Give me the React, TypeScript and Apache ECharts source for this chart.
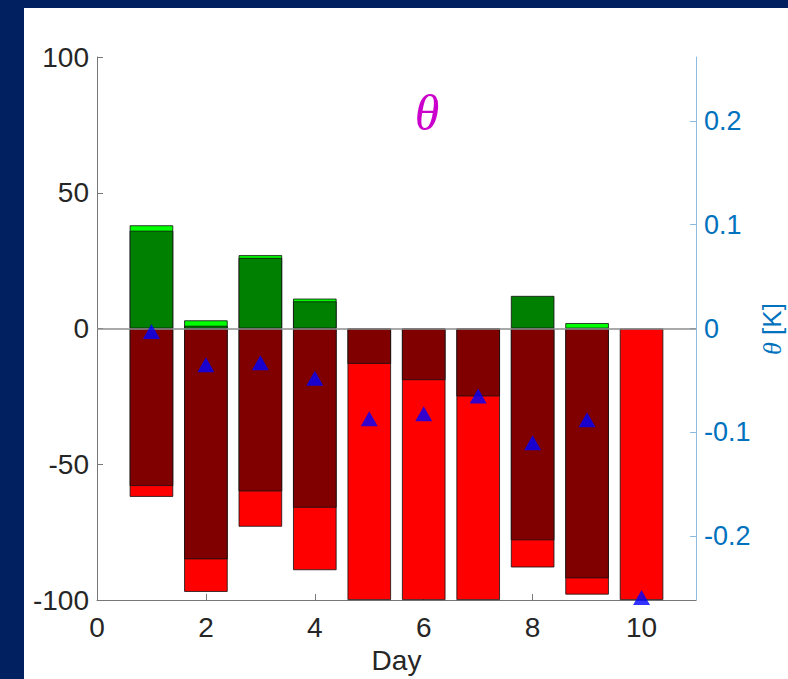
import React, { useEffect, useRef } from "react";
import * as echarts from "echarts";

const days = [1, 2, 3, 4, 5, 6, 7, 8, 9, 10];
const darkGreen = [36, 1, 26, 10, null, null, null, 12, null, null];
const lightGreen = [2, 2, 1, 1, null, null, null, null, 2, null];
const darkRed = [-58, -85, -60, -66, -13, -19, -25, -78, -92, null];
const red = [-4, -12, -13, -23, -87, -81, -75, -10, -6, -100];
const thetaK = [-0.003, -0.035, -0.033, -0.048, -0.087, -0.082, -0.065, -0.11, -0.088, -0.259];
const leftTicks = [-100, -50, 0, 50, 100];
const rightTicks = [-0.2, -0.1, 0, 0.1, 0.2];
const xTicks = [0, 2, 4, 6, 8, 10];

const RIGHT_LIM = 0.2615;

function pairs(arr: (number | null)[]) {
  return days.map((d, i) => (arr[i] == null ? [d, "-"] : [d, arr[i]]));
}
// outer segment of a stacked bar = inner + outer part (null when the outer part is absent)
function totals(inner: (number | null)[], outer: (number | null)[]) {
  return inner.map((v, i) => (outer[i] == null ? null : (v ?? 0) + (outer[i] as number)));
}

export default function App() {
  const ref = useRef<HTMLDivElement>(null);
  useEffect(() => {
    if (!ref.current) return;
    const chart = echarts.init(ref.current, undefined, { renderer: "svg" });
    const font = "'Liberation Sans', Arial, sans-serif";
    const FS = 28;
    const barBase = {
      type: "bar",
      barWidth: 43.5,
      barGap: "-100%",
      xAxisIndex: 0,
      yAxisIndex: 0,
      emphasis: { disabled: true },
    };
    const border = { borderColor: "#111", borderWidth: 0.8 };
    chart.setOption({
      animation: false,
      backgroundColor: "#ffffff",
      grid: { left: 97, top: 57, width: 599, height: 544, containLabel: false },
      xAxis: {
        type: "value",
        min: 0,
        max: 11,
        interval: 2,
        name: "Day",
        nameLocation: "middle",
        nameGap: 46,
        nameTextStyle: { color: "#262626", fontSize: FS, fontFamily: font },
        axisLine: { show: true, onZero: false, lineStyle: { color: "#777", width: 1 } },
        axisTick: { show: true, inside: true, length: 6, lineStyle: { color: "#777" }, customValues: xTicks },
        axisLabel: {
          color: "#262626",
          fontSize: FS,
          fontFamily: font,
          margin: 13,
          customValues: xTicks,
        },
        splitLine: { show: false },
      },
      yAxis: [
        {
          type: "value",
          min: -100,
          max: 100,
          interval: 50,
          position: "left",
          axisLine: { show: true, lineStyle: { color: "#777", width: 1 } },
          axisTick: { show: true, inside: true, length: 6, lineStyle: { color: "#777" }, customValues: leftTicks },
          axisLabel: { color: "#262626", fontSize: FS, fontFamily: font, margin: 8, customValues: leftTicks },
          splitLine: { show: false },
        },
        {
          type: "value",
          min: -RIGHT_LIM,
          max: RIGHT_LIM,
          position: "right",
          axisLine: { show: true, lineStyle: { color: "#8dbbe0", width: 1 } },
          axisTick: { show: true, inside: true, length: 6, lineStyle: { color: "#8dbbe0" }, customValues: rightTicks },
          axisLabel: {
            color: "#0072BD",
            fontSize: 27,
            fontFamily: font,
            margin: 8,
            customValues: rightTicks,
            formatter: (v: number) => String(Math.round(v * 10) / 10),
          },
          splitLine: { show: false },
        },
      ],
      series: [
        { ...barBase, name: "lg", data: pairs(totals(darkGreen, lightGreen)), itemStyle: { ...border, color: "#00ff00" } },
        { ...barBase, name: "dg", data: pairs(darkGreen), itemStyle: { ...border, color: "#008000" } },
        { ...barBase, name: "r", data: pairs(totals(darkRed, red)), itemStyle: { ...border, color: "#ff0000" } },
        {
          ...barBase,
          name: "dr",
          data: pairs(darkRed),
          itemStyle: { ...border, color: "#800000" },
          markLine: {
            silent: true,
            symbol: "none",
            label: { show: false },
            lineStyle: { color: "#8c8c8c", width: 1.5, type: "solid" },
            data: [{ yAxis: 0 }],
          },
        },
        {
          type: "scatter",
          name: "theta",
          xAxisIndex: 0,
          yAxisIndex: 1,
          symbol: "triangle",
          symbolSize: [17, 15],
          itemStyle: { color: "#0000ff" },
          z: 5,
          clip: false,
          data: days.map((d, i) => [d, thetaK[i]]),
        },
      ],
      graphic: [
        { type: "rect", shape: { x: 0, y: 0, width: 788, height: 8 }, style: { fill: "#002060" }, z: 100 },
        { type: "rect", shape: { x: 0, y: 0, width: 24, height: 679 }, style: { fill: "#002060" }, z: 100 },
        {
          type: "text",
          x: 427,
          y: 113,
          style: {
            text: "θ",
            fill: "#cc00cc",
            font: "italic 50px 'Liberation Serif', 'Times New Roman', serif",
            align: "center",
            verticalAlign: "middle",
          },
          z: 50,
        },
        {
          type: "text",
          x: 772,
          y: 329,
          rotation: Math.PI / 2,
          style: {
            text: "{i|θ} [K]",
            fill: "#0072BD",
            font: "26px 'Liberation Sans', Arial, sans-serif",
            align: "center",
            verticalAlign: "middle",
            rich: {
              i: { fontStyle: "italic", fontFamily: "'Liberation Serif', serif", fontSize: 26, fill: "#0072BD" },
            },
          },
          z: 50,
        },
      ],
    });
    return () => chart.dispose();
  }, []);
  return (
    <div
      ref={ref}
      style={{ position: "absolute", left: 0, top: 0, width: 788, height: 679 }}
    />
  );
}
